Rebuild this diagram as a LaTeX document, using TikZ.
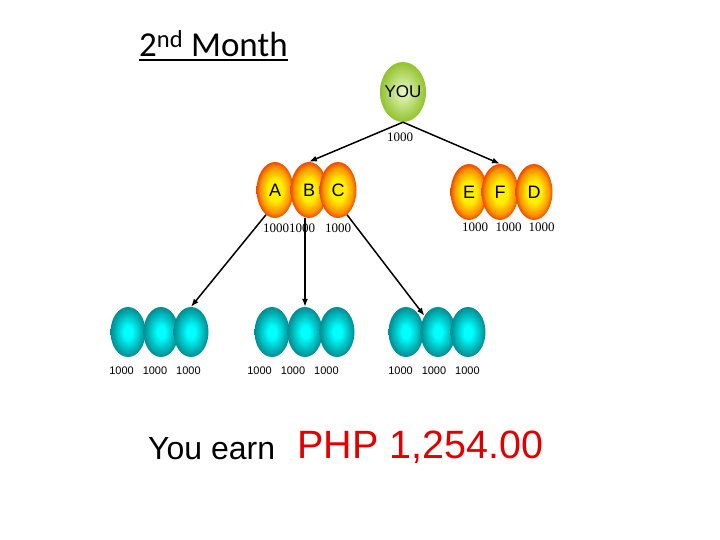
\documentclass[tikz,border=0pt]{standalone}
\usepackage{fontspec}
\setmainfont{Liberation Sans}
\newfontfamily\titlefont{Carlito}
\newfontfamily\numfont{Liberation Serif}
\usetikzlibrary{arrows.meta,shapes.geometric}

\definecolor{youin}{RGB}{235,248,200}
\definecolor{youout}{RGB}{145,195,45}
\definecolor{eggin}{RGB}{255,238,0}
\definecolor{eggmid}{RGB}{252,150,0}
\definecolor{eggout}{RGB}{235,75,0}
\definecolor{cyanin}{RGB}{0,255,255}
\definecolor{cyanout}{RGB}{0,140,145}
\definecolor{earnred}{RGB}{225,0,0}

\pgfdeclareradialshading{eggshade}{\pgfpoint{0bp}{0bp}}{color(0bp)=(eggin);
  color(10bp)=(eggin); color(20bp)=(eggmid); color(25bp)=(eggout); color(50bp)=(eggout)}
\pgfdeclareradialshading{cyanshade}{\pgfpoint{0bp}{0bp}}{color(0bp)=(cyanin);
  color(6bp)=(cyanin); color(25bp)=(cyanout); color(50bp)=(cyanout)}

\begin{document}
\begin{tikzpicture}[
    x=1pt, y=-1pt,
    egg/.style={ellipse, inner sep=0pt, minimum width=37pt, minimum height=56pt,
      font=\fontsize{18}{18}\selectfont},
    greenegg/.style={egg, inner sep=-4pt, minimum width=46pt, minimum height=60pt,
      inner color=youin, outer color=youout, font=\fontsize{17}{17}\selectfont},
    orangeegg/.style={egg, shading=eggshade},
    cyanegg/.style={egg, minimum width=35pt, minimum height=50pt, shading=cyanshade},
    num/.style={inner sep=0pt, font=\numfont\fontsize{13}{13}\selectfont},
    low/.style={inner sep=0pt, font=\fontsize{11}{11}\selectfont},
    arr/.style={-{Latex[length=8pt,width=6pt]}, line width=1.5pt}
  ]
    \useasboundingbox (0,0) rectangle (720,540);

    \node[inner sep=0pt, anchor=base west, font=\titlefont\fontsize{35}{35}\selectfont]
      (title) at (139,57) {2\textsuperscript{nd} Month};
    \draw[line width=2pt] ([yshift=-3pt]title.base west) -- ([yshift=-3pt]title.base east);

    % top
    \node[greenegg] (you) at (403,92) {YOU};
    \node[num] (youval) at (400,137) {1000};

    % second level
    \node[orangeegg] (a) at (275,190) {A};
    \node[orangeegg] (b) at (309,190) {B};
    \node[orangeegg] (c) at (338,190) {C};
    \node[orangeegg] (e) at (469,192) {E};
    \node[orangeegg] (f) at (500,192) {F};
    \node[orangeegg] (d) at (534,192) {D};
    \node[num, anchor=west] (abcval) at (263,228) {1000{}1000\hspace{10pt}1000};
    \node[num, anchor=west] (efdval) at (462,227) {1000\hspace{7.5pt}1000\hspace{7pt}1000};

    % third level
    \node[cyanegg] (t11) at (128,332) {};
    \node[cyanegg] (t12) at (161,332) {};
    \node[cyanegg] (t13) at (191,332) {};
    \node[cyanegg] (t21) at (272,332) {};
    \node[cyanegg] (t22) at (305,332) {};
    \node[cyanegg] (t23) at (337,332) {};
    \node[cyanegg] (t31) at (406,332) {};
    \node[cyanegg] (t32) at (438,332) {};
    \node[cyanegg] (t33) at (468,332) {};
    \node[low] (row1val) at (155,371) {1000\hspace{9pt}1000\hspace{9pt}1000};
    \node[low] (row2val) at (293,371) {1000\hspace{9pt}1000\hspace{9pt}1000};
    \node[low] (row3val) at (434,371) {1000\hspace{9pt}1000\hspace{9pt}1000};

    \draw[arr] (you.south) -- (b.north);
    \draw[arr] (you.south) -- (f.north);
    \draw[arr] (a.250) -- (t13.north);
    \draw[arr] (b.south -| t22.north) -- (t22.north);
    \draw[arr] (c.290) -- (t32.130);

    \node[inner sep=0pt, anchor=base west, font=\fontsize{32}{32}\selectfont]
      (earn) at (148,459) {You earn};
    \node[inner sep=0pt, anchor=base west, text=earnred, font=\fontsize{39.5}{39.5}\selectfont]
      (amount) at (297,458) {PHP 1,254.00};
  \end{tikzpicture}
\end{document}
